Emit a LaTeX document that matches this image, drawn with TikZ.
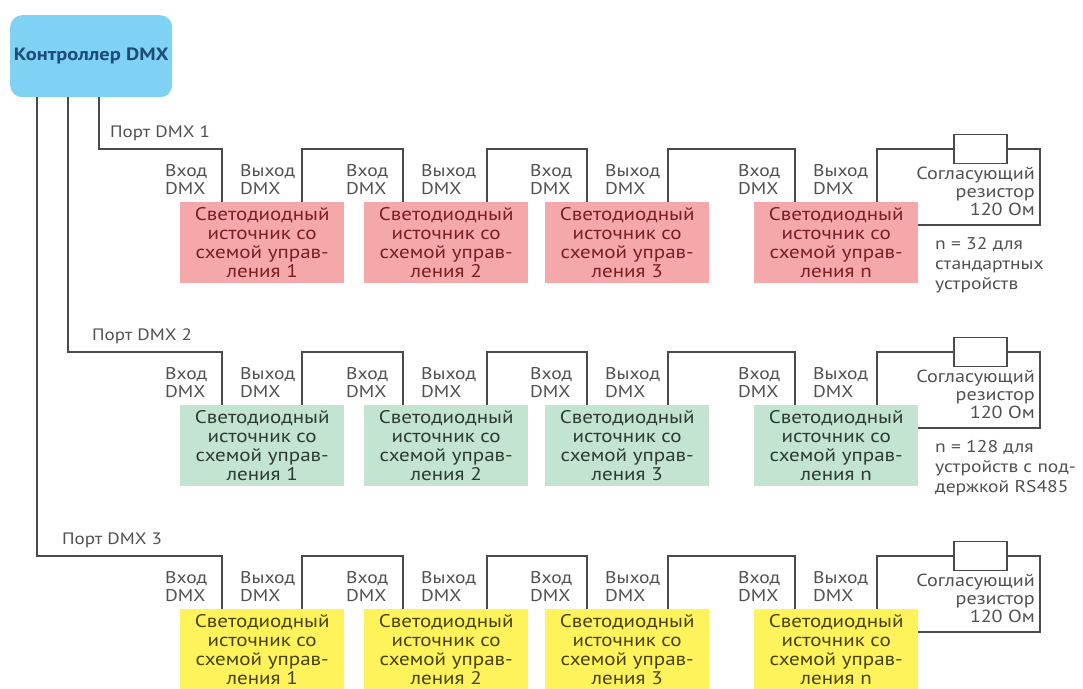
\documentclass[tikz,border=0pt]{standalone}
\usepackage{fontspec}
\setmainfont{PT Sans}[FakeStretch=1.15]
\usetikzlibrary{calc}
\definecolor{ctrlfill}{HTML}{7FD2F3}
\definecolor{ctrltext}{HTML}{1D4C76}
\definecolor{pinkf}{HTML}{F5A8AA}
\definecolor{pinkt}{HTML}{7A1E22}
\definecolor{greenf}{HTML}{C2E4D1}
\definecolor{greent}{HTML}{2E3A33}
\definecolor{yellowf}{HTML}{FFF35C}
\definecolor{yellowt}{HTML}{45420F}
\definecolor{wirec}{HTML}{4A4A4A}
\definecolor{labc}{HTML}{505050}
\begin{document}
\begin{tikzpicture}[x=1pt,y=-1pt,
  wire/.style={draw=wirec,line width=1.4pt},
  ledbox/.style={minimum width=164pt,minimum height=81pt,inner sep=0pt,align=center,
    font=\fontsize{18.3}{19}\selectfont},
  iolab/.style={align=left,inner sep=0pt,text=labc,font=\fontsize{17}{18}\selectfont},
  reslab/.style={align=right,inner sep=0pt,text=labc,font=\fontsize{17.5}{18}\selectfont},
  nlab/.style={align=left,inner sep=0pt,text=labc,font=\fontsize{17}{20}\selectfont},
  portlab/.style={inner sep=0pt,text=labc,font=\fontsize{16.5}{18}\selectfont,anchor=west},
  resbox/.style={draw=wirec,line width=1.4pt,fill=white,minimum width=53pt,minimum height=29pt,inner sep=0pt},
  ctrlbox/.style={fill=ctrlfill,rounded corners=12pt,minimum width=162pt,minimum height=82pt,inner sep=0pt,
    text=ctrltext,font=\bfseries\fontsize{17.8}{18}\selectfont}
]
\useasboundingbox (0,0) rectangle (1083,688);
\clip (0,0) rectangle (1083,688);
\node[ctrlbox,anchor=north west] (ctrl) at (10,15) {Контроллер DMX};
\foreach \r/\Y/\px/\lx/\fc/\tc in {1/149/99/110/pinkf/pinkt, 2/352/68/92/greenf/greent, 3/556/37/62/yellowf/yellowt}{
  \foreach \d/\bl/\inx/\outx/\lab in {1/180/222/302/1, 2/364/403/487/2, 3/545/587/668/3, 4/754/795/877/n}{
    \node[ledbox,fill=\fc,text=\tc,anchor=north west] (b\r\d) at (\bl,\Y+53)
      {Светодиодный\\источник со\\схемой управ-\\ления \lab};
    \coordinate (i\r\d) at (\inx,\Y+53);
    \coordinate (o\r\d) at (\outx,\Y+53);
    \coordinate (ti\r\d) at (\inx,\Y);
    \coordinate (to\r\d) at (\outx,\Y);
    \node[iolab,anchor=west] (vin\r\d) at (\inx-57,\Y+31) {Вход\\DMX};
    \node[iolab,anchor=west] (vout\r\d) at (\inx+18,\Y+31) {Выход\\DMX};
  }
  \coordinate (pt\r) at (\px,0);
  \node[portlab] (plab\r) at (\lx,\Y-16) {Порт DMX \r};
  \draw[wire] (ctrl.south -| pt\r) |- (ti\r1) -- (i\r1);
  \foreach \d/\e in {1/2,2/3,3/4}{
    \draw[wire] (o\r\d) -- (to\r\d) -- (ti\r\e) -- (i\r\e);
  }
  \coordinate (rc\r) at (1040,\Y);
  \coordinate (rb\r) at (918,\Y+76);
  \draw[wire] (o\r4) -- (to\r4) -- (rc\r) |- (rb\r);
  \node[resbox] (res\r) at (980.5,\Y) {};
  \node[reslab,anchor=east] (rl\r) at (1035,\Y+42) {Согласующий\\резистор\\120 Ом};
}
\node[nlab,anchor=west] (n1) at (935,265) {n = 32 для\\стандартных\\устройств};
\node[nlab,anchor=west] (n2) at (935,468) {n = 128 для\\устройств с под-\\держкой RS485};
\end{tikzpicture}
\end{document}
